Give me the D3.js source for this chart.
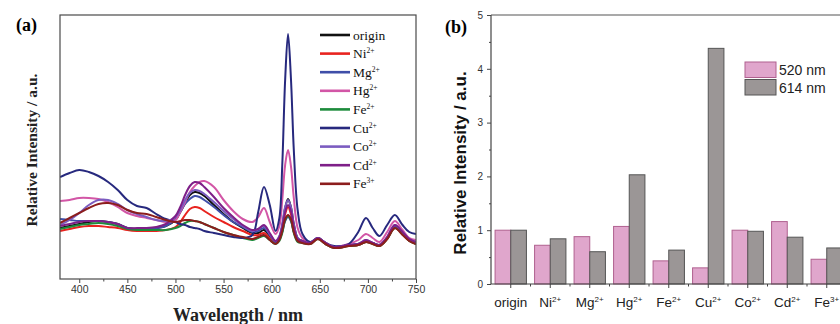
<!DOCTYPE html>
<html>
<head>
<meta charset="utf-8">
<script src="https://cdn.jsdelivr.net/npm/d3@7.9.0/dist/d3.min.js"></script>
<style>
  body { margin: 0; background: #fff; }
  svg { display: block; }
</style>
</head>
<body>
<svg id="fig" width="840" height="324"></svg>
<script>
// ---- panel (a): emission spectra ----
const wavelengths = [380, 390, 400, 410, 420, 430, 440, 450, 460, 470, 480, 490, 500, 505, 510, 515, 520, 525, 530, 540,
  550, 560, 570, 580, 586, 592, 598, 604, 608, 611, 614, 617, 620, 623, 627, 632, 640, 648, 656, 665,
  680, 690, 698, 705, 712, 720, 728, 736, 743, 750];

const origin = [51, 53, 55, 57, 58, 57, 55, 51, 50, 50, 51, 53, 59, 67, 76, 84, 87, 86, 83, 74,
  65, 57, 51, 46, 46, 49, 43, 37, 42, 53, 71, 80, 72, 55, 41, 38, 36, 41, 36, 32,
  34, 35, 38, 36, 34, 41, 52, 46, 39, 36];
const ni = [48, 50, 52, 53, 53, 52, 51, 49, 48, 48, 48, 49, 52, 57, 64, 70, 72, 71, 68, 62,
  57, 52, 48, 44, 44, 46, 41, 36, 40, 50, 65, 72, 65, 50, 39, 37, 35, 40, 35, 31,
  33, 34, 37, 35, 33, 40, 51, 45, 38, 35];
const mg = [60, 59, 58, 58, 58, 57, 55, 51, 50, 50, 51, 53, 60, 67, 75, 80, 83, 82, 79, 72,
  64, 57, 52, 47, 48, 51, 44, 37, 40, 47, 58, 62, 58, 47, 39, 37, 36, 41, 36, 32,
  34, 35, 38, 36, 34, 41, 52, 46, 39, 36];
const hg = [78, 79, 81, 81, 80, 77, 72, 66, 63, 61, 59, 57, 59, 67, 77, 87, 93, 97, 98, 92,
  79, 68, 60, 57, 62, 71, 57, 45, 53, 79, 114, 129, 113, 81, 51, 41, 36, 41, 36, 32,
  35, 39, 45, 41, 37, 47, 58, 49, 41, 39];
const fe2 = [50, 52, 54, 55, 56, 55, 53, 50, 49, 49, 49, 49, 51, 53, 56, 58, 58, 57, 55, 51,
  47, 44, 41, 39, 41, 43, 39, 35, 38, 46, 59, 63, 59, 46, 37, 36, 35, 40, 35, 31,
  33, 34, 37, 35, 33, 40, 51, 45, 38, 35];
const cu = [102, 106, 109, 107, 103, 97, 89, 79, 73, 71, 65, 60, 57, 55, 54, 52, 51, 50, 48, 46,
  44, 42, 41, 44, 67, 92, 74, 48, 61, 114, 199, 245, 201, 129, 69, 45, 37, 41, 36, 33,
  35, 47, 61, 51, 43, 54, 64, 54, 47, 45];
const co = [54, 59, 66, 74, 79, 79, 75, 69, 65, 62, 59, 58, 62, 69, 79, 86, 89, 88, 85, 77,
  68, 60, 53, 48, 50, 53, 45, 38, 43, 55, 72, 79, 72, 55, 41, 38, 36, 41, 36, 32,
  34, 35, 39, 36, 34, 42, 54, 47, 40, 37];
const cd = [53, 55, 57, 58, 58, 57, 55, 51, 51, 51, 52, 55, 63, 72, 84, 93, 97, 96, 92, 82,
  71, 62, 54, 49, 50, 54, 46, 38, 42, 52, 67, 74, 68, 52, 40, 38, 36, 41, 36, 32,
  34, 35, 39, 36, 34, 42, 54, 47, 40, 37];
const fe3 = [56, 61, 66, 71, 75, 76, 74, 69, 66, 65, 62, 59, 57, 58, 59, 59, 58, 57, 55, 51,
  47, 44, 42, 40, 42, 44, 39, 35, 39, 48, 60, 64, 60, 47, 38, 36, 35, 40, 35, 31,
  33, 34, 37, 35, 33, 40, 51, 44, 38, 35];

// legend names: [element, charge]
const ionNames = [["origin", ""], ["Ni", "2+"], ["Mg", "2+"], ["Hg", "2+"], ["Fe", "2+"],
  ["Cu", "2+"], ["Co", "2+"], ["Cd", "2+"], ["Fe", "3+"]];
const spectra = [origin, ni, mg, hg, fe2, cu, co, cd, fe3];
const lineColors = ["#111111", "#e8231f", "#3f4ea8", "#d256a6", "#1d8b3c",
  "#27297e", "#7b5cc0", "#7e1f88", "#8c1d1d"];

// ---- panel (b): bars ----
const barKeys = ["520 nm", "614 nm"];
const int520 = [1.0, 0.72, 0.88, 1.07, 0.43, 0.30, 1.0, 1.16, 0.46];
const int614 = [1.0, 0.84, 0.60, 2.03, 0.63, 4.38, 0.98, 0.87, 0.67];
const barFill = ["#e0a6cc", "#9b9696"];
const barStroke = ["#b0608f", "#555"];

const serif = "'Liberation Serif', 'Times New Roman', serif";
const sans = "'Liberation Sans', Arial, sans-serif";

const svg = d3.select("#fig");

// superscript helper
function ionText(sel, name, charge, supSize, supDy) {
  sel.append("tspan").text(name);
  if (charge) {
    sel.append("tspan")
      .attr("font-size", supSize)
      .attr("dy", supDy)
      .text(charge);
  }
}

// ================= panel (a) =================
const A = { left: 60, right: 416, top: 15, bottom: 279 };
const xA = d3.scaleLinear().domain([380, 750]).range([A.left, A.right]);
const yA = d3.scaleLinear().domain([0, 264]).range([A.bottom, A.top]);

const gA = svg.append("g");

gA.append("clipPath").attr("id", "clipA")
  .append("rect")
  .attr("x", A.left).attr("y", A.top)
  .attr("width", A.right - A.left).attr("height", A.bottom - A.top);

const line = d3.line()
  .x((d, i) => xA(wavelengths[i]))
  .y((d) => yA(d))
  .curve(d3.curveCatmullRom.alpha(0.5));

gA.append("g")
  .attr("clip-path", "url(#clipA)")
  .selectAll("path")
  .data(spectra)
  .join("path")
  .attr("fill", "none")
  .attr("stroke", (d, i) => lineColors[i])
  .attr("stroke-width", 2)
  .attr("stroke-linejoin", "round")
  .attr("d", line);

// x axis
const axA = gA.append("g")
  .attr("transform", `translate(0,${A.bottom})`)
  .call(d3.axisBottom(xA).tickValues(d3.range(400, 751, 50)).tickSize(4).tickSizeOuter(0).tickPadding(3));
axA.selectAll("text").attr("font-family", sans).attr("font-size", 10.5).attr("fill", "#333");
axA.select(".domain").remove();
axA.selectAll("line").attr("stroke", "#444");

const axAminor = gA.append("g")
  .attr("transform", `translate(0,${A.bottom})`)
  .call(d3.axisBottom(xA).tickValues(d3.range(425, 750, 50)).tickSize(2.5).tickFormat(""));
axAminor.select(".domain").remove();
axAminor.selectAll("line").attr("stroke", "#444");

gA.append("rect")
  .attr("x", A.left).attr("y", A.top)
  .attr("width", A.right - A.left).attr("height", A.bottom - A.top)
  .attr("fill", "none").attr("stroke", "#4a4a4a").attr("stroke-width", 1.2);

// legend (a)
const legA = gA.append("g").attr("transform", "translate(320,35)");
const legRows = legA.selectAll("g")
  .data(ionNames)
  .join("g")
  .attr("transform", (d, i) => `translate(0,${i * 18.6})`);
legRows.append("line")
  .attr("x1", 0).attr("x2", 30)
  .attr("stroke", (d, i) => lineColors[i])
  .attr("stroke-width", 2.6);
legRows.append("text")
  .attr("x", 33).attr("y", 4.5)
  .attr("font-family", serif).attr("font-size", 13.5).attr("fill", "#111")
  .each(function (d) { ionText(d3.select(this), d[0], d[1], 7.5, -5); });

// labels (a)
svg.append("text")
  .attr("x", 16).attr("y", 31)
  .attr("font-family", serif).attr("font-weight", "bold").attr("font-size", 18)
  .text("(a)");
svg.append("text")
  .attr("transform", "translate(37,150) rotate(-90)")
  .attr("text-anchor", "middle")
  .attr("font-family", serif).attr("font-weight", "bold").attr("font-size", 15.5).attr("fill", "#222")
  .text("Relative Intensity / a.u.");
svg.append("text")
  .attr("x", 238).attr("y", 321)
  .attr("text-anchor", "middle")
  .attr("font-family", serif).attr("font-weight", "bold").attr("font-size", 18).attr("fill", "#222")
  .text("Wavelength / nm");

// ================= panel (b) =================
const B = { left: 491, top: 15, bottom: 284 };
const x0 = d3.scaleBand().domain(d3.range(ionNames.length)).range([B.left, B.left + 39.5 * ionNames.length]);
const x1 = d3.scaleBand().domain(barKeys).range([0, x0.bandwidth()]).paddingOuter(0.26);
const yB = d3.scaleLinear().domain([0, 5]).range([B.bottom, B.top]);

const gB = svg.append("g");
const barValues = [int520, int614];

gB.append("g")
  .selectAll("g")
  .data(ionNames.map((d, i) => i))
  .join("g")
  .attr("transform", (i) => `translate(${x0(i)},0)`)
  .selectAll("rect")
  .data((i) => barKeys.map((k, j) => ({ key: k, j, v: barValues[j][i] })))
  .join("rect")
  .attr("x", (d) => x1(d.key))
  .attr("width", x1.bandwidth())
  .attr("y", (d) => yB(d.v))
  .attr("height", (d) => yB(0) - yB(d.v))
  .attr("fill", (d) => barFill[d.j])
  .attr("stroke", (d) => barStroke[d.j])
  .attr("stroke-width", 1);

// axes (b)
const ayB = gB.append("g")
  .attr("transform", `translate(${B.left},0)`)
  .call(d3.axisLeft(yB).ticks(5).tickSize(4).tickPadding(4).tickSizeOuter(0));
ayB.selectAll("text").attr("font-family", sans).attr("font-size", 10).attr("fill", "#333");
ayB.select(".domain").remove();
ayB.selectAll("line").attr("stroke", "#444");
const ayBminor = gB.append("g")
  .attr("transform", `translate(${B.left},0)`)
  .call(d3.axisLeft(yB).tickValues(d3.range(0.5, 5, 1)).tickSize(2).tickFormat(""));
ayBminor.select(".domain").remove();
ayBminor.selectAll("line").attr("stroke", "#444");

// x ticks at centres and band edges
const axB = gB.append("g").attr("transform", `translate(0,${B.bottom})`);
axB.selectAll("line.maj")
  .data(x0.domain())
  .join("line")
  .attr("class", "maj")
  .attr("x1", (i) => x0(i) + x0.bandwidth() / 2)
  .attr("x2", (i) => x0(i) + x0.bandwidth() / 2)
  .attr("y2", 4).attr("stroke", "#444");
axB.selectAll("line.min")
  .data(x0.domain())
  .join("line")
  .attr("class", "min")
  .attr("x1", (i) => x0(i) + x0.bandwidth())
  .attr("x2", (i) => x0(i) + x0.bandwidth())
  .attr("y2", 2.5).attr("stroke", "#444");
axB.selectAll("text")
  .data(ionNames)
  .join("text")
  .attr("x", (d, i) => x0(i) + x0.bandwidth() / 2)
  .attr("y", 23)
  .attr("text-anchor", "middle")
  .attr("font-family", sans).attr("font-size", 13.5).attr("fill", "#222")
  .each(function (d) { ionText(d3.select(this), d[0], d[1], 8, -5); });

// frame lines
gB.append("line").attr("x1", B.left).attr("x2", 840).attr("y1", B.top).attr("y2", B.top)
  .attr("stroke", "#555").attr("stroke-width", 1.2);
gB.append("line").attr("x1", B.left).attr("x2", 840).attr("y1", B.bottom).attr("y2", B.bottom)
  .attr("stroke", "#444").attr("stroke-width", 1.2);
gB.append("line").attr("x1", B.left).attr("x2", B.left).attr("y1", B.top).attr("y2", B.bottom)
  .attr("stroke", "#444").attr("stroke-width", 1.2);

// legend (b)
const legB = gB.append("g").attr("transform", "translate(745,62)");
legB.selectAll("rect")
  .data(barKeys)
  .join("rect")
  .attr("x", 0).attr("y", (d, i) => i * 17.5)
  .attr("width", 31).attr("height", 15.5)
  .attr("fill", (d, i) => barFill[i])
  .attr("stroke", (d, i) => barStroke[i]);
legB.selectAll("text")
  .data(barKeys)
  .join("text")
  .attr("x", 34).attr("y", (d, i) => i * 17.5 + 13)
  .attr("font-family", sans).attr("font-size", 14).attr("fill", "#222")
  .text((d) => d);

svg.append("text")
  .attr("x", 445).attr("y", 33)
  .attr("font-family", serif).attr("font-weight", "bold").attr("font-size", 18)
  .text("(b)");
svg.append("text")
  .attr("transform", "translate(466,163) rotate(-90)")
  .attr("text-anchor", "middle")
  .attr("font-family", sans).attr("font-weight", "bold").attr("font-size", 17).attr("fill", "#111")
  .text("Relative Intensity / a.u.");
</script>
</body>
</html>
